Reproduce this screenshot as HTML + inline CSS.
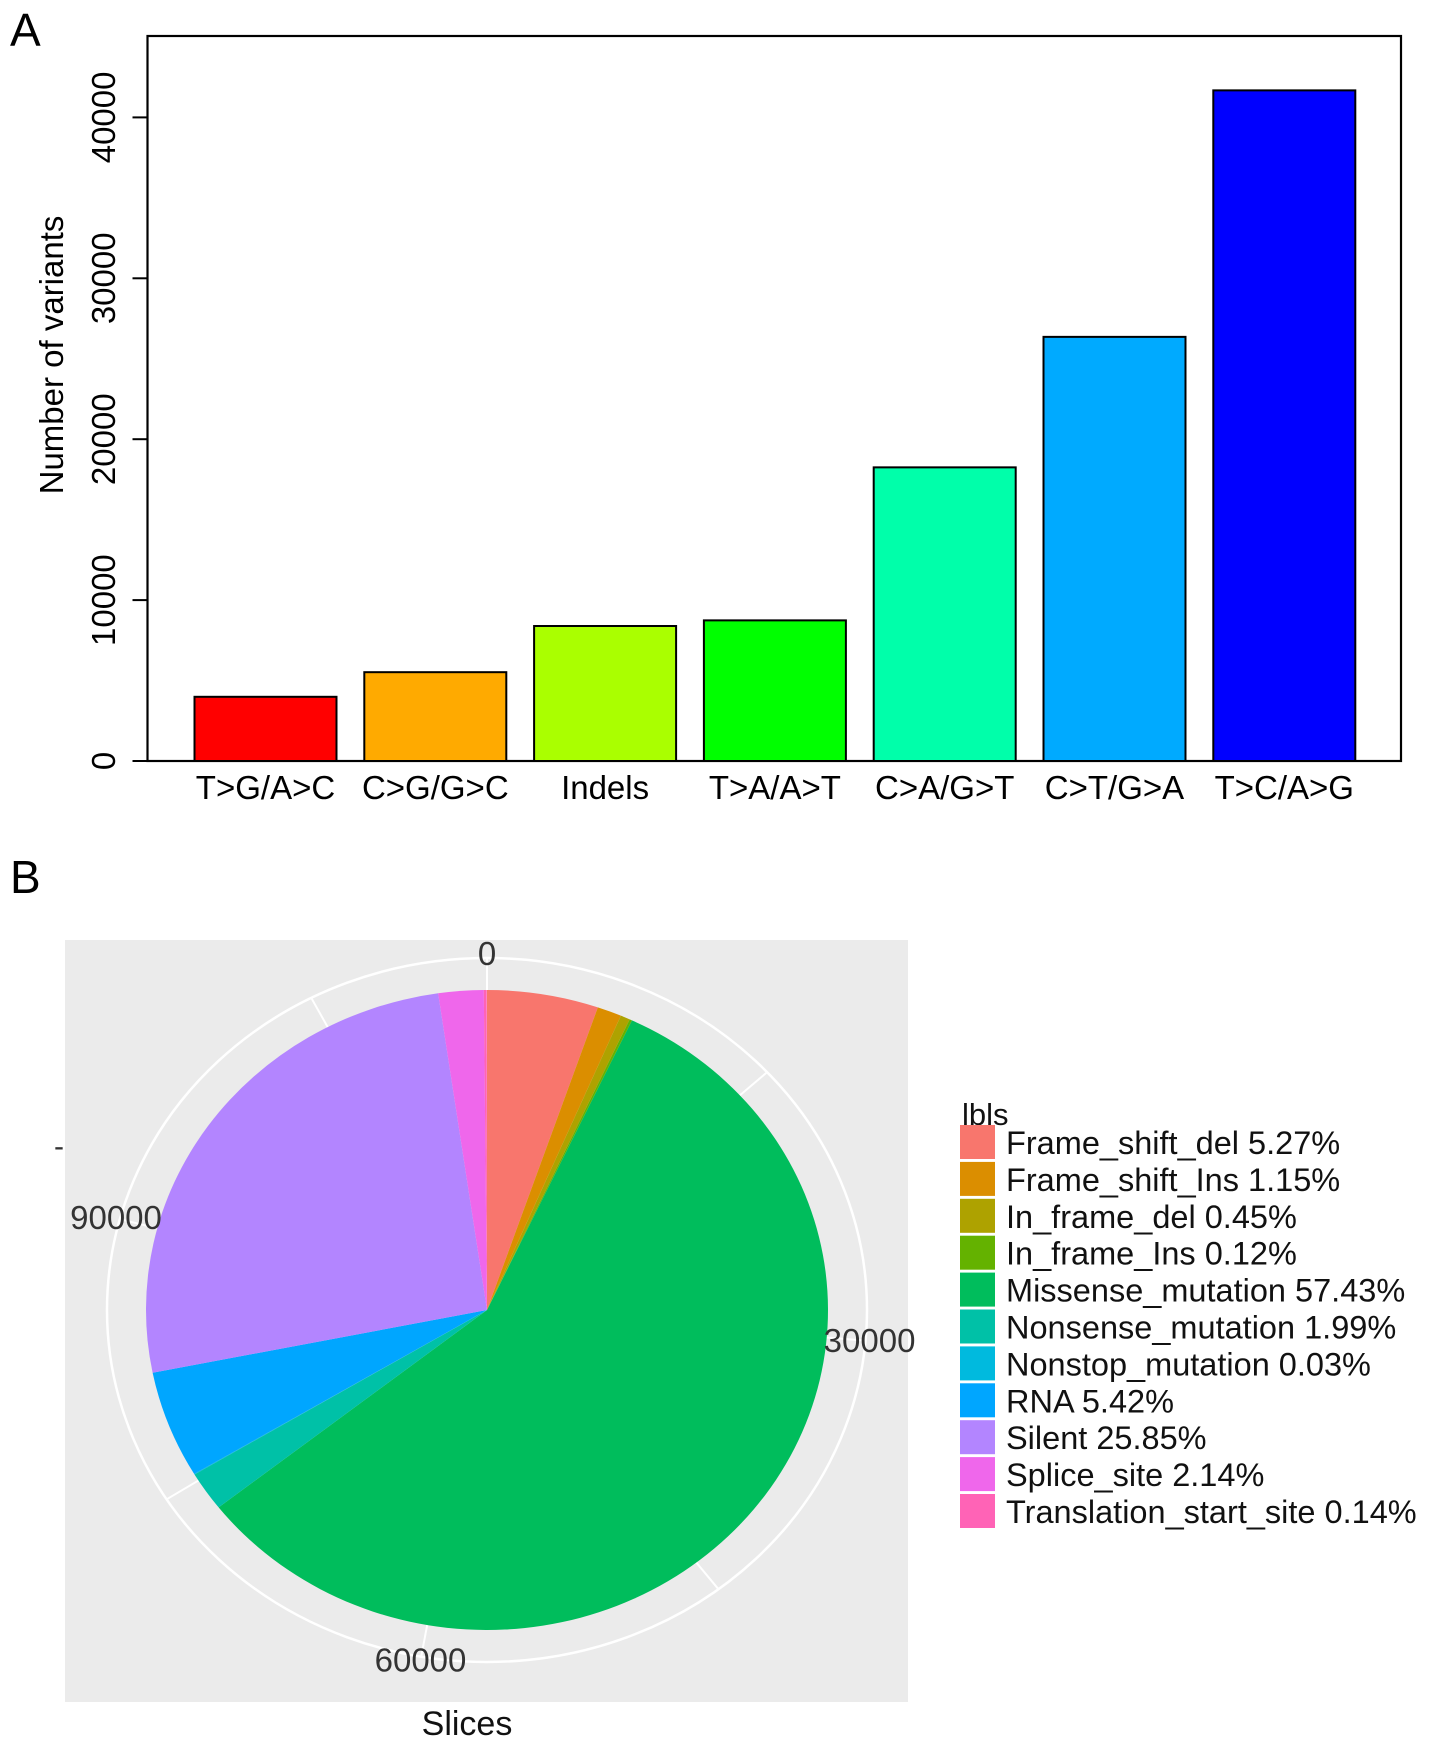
<!DOCTYPE html>
<html><head><meta charset="utf-8"><style>
html,body{margin:0;padding:0;background:#fff}
svg{display:block;font-family:"Liberation Sans",Arial,sans-serif}
</style></head><body>
<svg id="fig" width="1453" height="1761" viewBox="0 0 1453 1761">
<text x="10" y="46" font-size="46">A</text>
<text x="10" y="893" font-size="46">B</text>
<g id="barChart"></g>
<g id="pieChart"></g>
</svg>
<script>
const barCategories = ["T>G/A>C","C>G/G>C","Indels","T>A/A>T","C>A/G>T","C>T/G>A","T>C/A>G"];
const barValues = [3990, 5520, 8390, 8740, 18250, 26360, 41680];
const barColors = ["#FF0000","#FFAA00","#AAFF00","#00FF00","#00FFAA","#00AAFF","#0000FF"];
const yTicks = [0, 10000, 20000, 30000, 40000];

const pieLabels = ["Frame_shift_del","Frame_shift_Ins","In_frame_del","In_frame_Ins","Missense_mutation","Nonsense_mutation","Nonstop_mutation","RNA","Silent","Splice_site","Translation_start_site"];
const piePercents = [5.27,1.15,0.45,0.12,57.43,1.99,0.03,5.42,25.85,2.14,0.14];
const pieColors = ["#F8766D","#DB8E00","#AEA200","#64B200","#00BD5C","#00C1A7","#00BADE","#00A6FF","#B385FF","#EF67EB","#FF63B6"];
const pieTotal = 113700;
const thetaTicks = [0, 30000, 60000, 90000];
const thetaMinor = [15000, 45000, 75000, 105000];

const NS = "http://www.w3.org/2000/svg";
function mk(tag, attrs, parent){const e=document.createElementNS(NS,tag);for(const k in attrs)e.setAttribute(k,attrs[k]);parent.appendChild(e);return e;}

// ---- Bar chart ----
const bar = document.getElementById('barChart');
const box = {l:147.5, t:36, r:1401, b:761};
const yScale = v => 761 - v/10000*160.9;
const xLeft = i => 194.5 + i*169.8;
const bw = 142;
let r = mk('rect',{x:box.l,y:box.t,width:box.r-box.l,height:box.b-box.t,fill:'none',stroke:'#000','stroke-width':2.2},bar);


let yl = mk('line',{x1:box.l,x2:box.l,y1:yScale(0),y2:yScale(40000),stroke:'#000','stroke-width':2},bar);


yTicks.forEach(v=>{
  const y=yScale(v);
  const tk=mk('line',{x1:box.l-15,x2:box.l,y1:y,y2:y,stroke:'#000','stroke-width':2},bar);
  
  
  const t=mk('text',{x:0,y:0,'font-size':33,'text-anchor':'middle',transform:`translate(115,${y}) rotate(-90)`},bar);
  t.textContent=v;
  
  
});
let xb = mk('line',{x1:box.l-8,x2:box.r,y1:box.b,y2:box.b,stroke:'#000','stroke-width':2},bar);


let yt = mk('text',{x:0,y:0,'font-size':33,'text-anchor':'middle',transform:'translate(63,355) rotate(-90)'},bar);
yt.textContent='Number of variants';


barValues.forEach((v,i)=>{
  const y=yScale(v);
  const b=mk('rect',{x:xLeft(i),y:y,width:bw,height:yScale(0)-y,fill:barColors[i],stroke:'#000','stroke-width':2},bar);
  
  
  const t=mk('text',{x:xLeft(i)+bw/2,y:799,'font-size':33,'text-anchor':'middle'},bar);
  t.textContent=barCategories[i];
  
  
});

// ---- Pie chart ----
const pie = document.getElementById('pieChart');
let bg = mk('rect',{x:65,y:940,width:843,height:762,fill:'#EBEBEB'},pie);


const cx=487, cy=1310, rx=341, ry=320, orx=380, ory=352;
const pt=(a,fx,fy)=>[cx+fx*Math.sin(a), cy-fy*Math.cos(a)];
const ang=v=>v/pieTotal*2*Math.PI;
let oc = mk('ellipse',{cx:cx,cy:cy,rx:orx,ry:ory,fill:'none',stroke:'#fff','stroke-width':2.5},pie);


thetaTicks.concat(thetaMinor).forEach(v=>{
  const [x,y]=pt(ang(v),orx,ory);
  const g=mk('line',{x1:cx,y1:cy,x2:x,y2:y,stroke:'#fff','stroke-width':2},pie);
  
  
});
let acc=0;
piePercents.forEach((p,i)=>{
  const a0=acc/100*2*Math.PI; acc+=p; const a1=acc/100*2*Math.PI;
  const [x0,y0]=pt(a0,rx,ry), [x1,y1]=pt(a1,rx,ry);
  const large=(a1-a0)>Math.PI?1:0;
  const s=mk('path',{d:`M${cx},${cy} L${x0},${y0} A${rx},${ry} 0 ${large} 1 ${x1},${y1} Z`,fill:pieColors[i]},pie);
  
  
});
thetaTicks.forEach(v=>{
  const [x,y]=pt(ang(v),orx+4,ory+4);
  const t=mk('text',{x:x,y:y+11,'font-size':33,fill:'#333','text-anchor':'middle'},pie);
  t.textContent=v;
  
  
});
let dash = mk('text',{x:54,y:1156,'font-size':30,fill:'#333'},pie);
dash.textContent='-';


let sl = mk('text',{x:467,y:1735,'font-size':34,fill:'#111','text-anchor':'middle'},pie);
sl.textContent='Slices';


let lt = mk('text',{x:962,y:1125,'font-size':31,fill:'#111'},pie);
lt.textContent='lbls';


pieLabels.forEach((l,i)=>{
  const y=1125+i*36.9;
  const k=mk('rect',{x:960,y:y,width:35,height:34,fill:pieColors[i]},pie);
  
  
  const t=mk('text',{x:1006,y:y+29,'font-size':32.5,fill:'#111'},pie);
  t.textContent=l+' '+piePercents[i].toFixed(2)+'%';
  
  
});
</script>
</body></html>
